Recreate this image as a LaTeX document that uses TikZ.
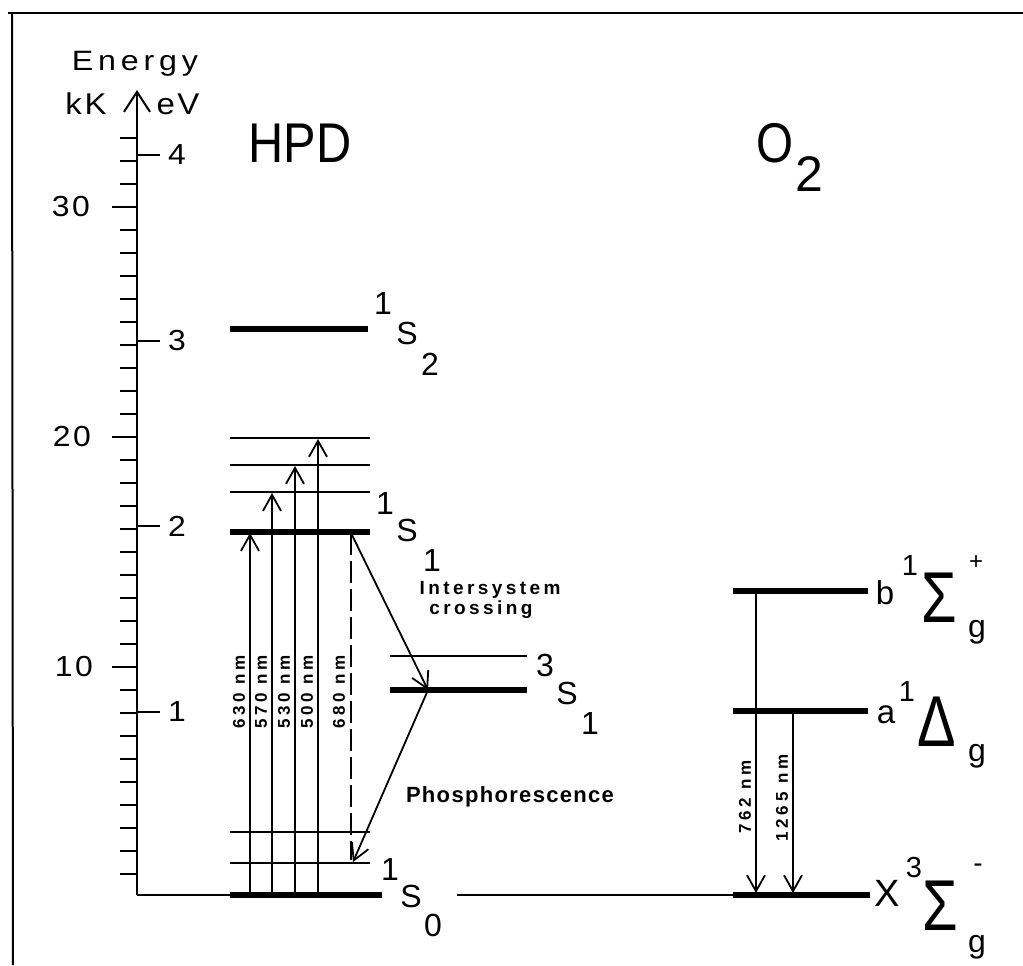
\documentclass[tikz,border=0pt]{standalone}
\usepackage{fontspec}
\setmainfont{Liberation Sans}
\usetikzlibrary{arrows.meta}
\newcommand{\fsz}[1]{\fontsize{#1}{#1}\selectfont}
\begin{document}
\begin{tikzpicture}[x=0.5pt,y=-0.5pt,
  frame/.style={line width=1pt},
  axisl/.style={line width=1pt},
  lvl/.style={line width=2.8pt},
  vib/.style={line width=1.1pt},
  tr/.style={line width=0.9pt,-{Straight Barb[length=8pt,width=9pt]}},
  t/.style={inner sep=0pt,outer sep=0pt,anchor=center},
  tb/.style={inner sep=0pt,outer sep=0pt,anchor=base},
  wl/.style={t,rotate=90,font=\fsz{8.5}\bfseries\addfontfeatures{LetterSpace=22}},
  st/.style={t,font=\fsz{16}},
  big/.style={t,font=\fsz{36}},
  num/.style={t,font=\fsz{14.5}\addfontfeatures{LetterSpace=8}}
]
\useasboundingbox (0,0) rectangle (1023,965);
% frame
\draw[frame] (8,13) -- (1023,13);
\draw[frame] (12,13) -- (13,965);
% axis
\coordinate (ax0) at (137,895);
\coordinate (axtop) at (137,90);
\draw[axisl,-{Straight Barb[length=10pt,width=13pt]}] (ax0) -- (axtop);
\foreach \k in {1,...,33} {\draw[axisl] (120,{897-23*\k}) -- (137,{897-23*\k});}
\foreach \k in {10,20,30} {\draw[axisl] (112,{897-23*\k}) -- (137,{897-23*\k});}
\foreach \n in {1,...,4} {\draw[axisl] (137,{897-185.5*\n}) -- (160,{897-185.5*\n});
  \node[t,font=\fsz{14.5}] (ev\n) at (177,{897-185.5*\n}) {\scalebox{1.1}[1]{\n}};}
\node[num] (k30) at (71,207) {\scalebox{1.1}[1]{30}};
\node[num] (k20) at (72,437) {\scalebox{1.1}[1]{20}};
\node[num] (k10) at (74,667) {\scalebox{1.1}[1]{10}};
\node[tb,font=\fsz{14}\addfontfeatures{LetterSpace=15}] (energy) at (135,70) {\scalebox{1.15}[1]{Energy}};
\node[tb,font=\fsz{15}\addfontfeatures{LetterSpace=8}] (kk) at (86,114) {\scalebox{1.1}[1]{kK}};
\node[tb,font=\fsz{15}\addfontfeatures{LetterSpace=8}] (ev) at (178,114) {\scalebox{1.1}[1]{eV}};
% titles
\node[t,font=\fsz{28}] (hpd) at (300,143) {\scalebox{0.87}[1]{HPD}};
\node[t,font=\fsz{28}] (oxy) at (775,143) {\scalebox{0.85}[1]{O}};
\node[t,font=\fsz{25}] (oxy2) at (809,174) {2};
% HPD levels
\draw[lvl] (230,329) -- (368,329);
\draw[vib] (230,438) -- (370,438);
\draw[vib] (230,465) -- (370,465);
\draw[vib] (230,492) -- (370,492);
\draw[lvl] (230,532) -- (370,532);
\draw[vib] (390,656) -- (527,656);
\draw[lvl] (390,690) -- (527,690);
\draw[vib] (230,832) -- (370,832);
\draw[vib] (230,863) -- (370,863);
% baseline
\draw[axisl] (ax0) -- (230,895);
\draw[lvl] (230,895) -- (382,895);
\draw[axisl] (457,895) -- (733,895);
\draw[lvl] (733,895) -- (870,895);
% O2 levels
\draw[lvl] (733,591) -- (868,591);
\draw[lvl] (733,711) -- (868,711);
% arrow endpoints
\coordinate (a1b) at (250,895); \coordinate (a1t) at (250,533);
\coordinate (a2b) at (272,895); \coordinate (a2t) at (272,493);
\coordinate (a3b) at (295,895); \coordinate (a3t) at (295,466);
\coordinate (a4b) at (318,895); \coordinate (a4t) at (318,439);
\coordinate (fl1) at (351,533); \coordinate (fl2) at (351,860);
\coordinate (isc) at (428,690); \coordinate (ph) at (353,862);
\coordinate (bt) at (756,591); \coordinate (bb) at (756,893);
\coordinate (at) at (793,711); \coordinate (ab) at (793,893);
\draw[tr] (a1b) -- (a1t);
\draw[tr] (a2b) -- (a2t);
\draw[tr] (a3b) -- (a3t);
\draw[tr] (a4b) -- (a4t);
\draw[line width=0.9pt,dash pattern=on 11pt off 3pt] (fl1) -- (fl2);
\draw[tr] (fl1) -- (isc);
\draw[tr] (isc) -- (ph);
\draw[tr] (bt) -- (bb);
\draw[tr] (at) -- (ab);
% wavelength labels
\node[wl] (w630) at (239,692) {630 nm};
\node[wl] (w570) at (261,692) {570 nm};
\node[wl] (w530) at (284,692) {530 nm};
\node[wl] (w500) at (307,692) {500 nm};
\node[wl] (w680) at (339,692) {680 nm};
\node[wl] (w762) at (745,797) {762 nm};
\node[wl] (w1265) at (782,798) {1265 nm};
% process labels
\node[t,font=\fsz{9.5}\bfseries\addfontfeatures{LetterSpace=18}] (isc1) at (490,590) {Intersystem};
\node[t,font=\fsz{9.5}\bfseries\addfontfeatures{LetterSpace=18}] (isc2) at (481,610) {crossing};
\node[t,font=\fsz{11}\bfseries\addfontfeatures{LetterSpace=6}] (phos) at (510,797) {Phosphorescence};
% HPD state labels
\node[st] (s2a) at (383,303) {1}; \node[st] (s2b) at (407,333) {S}; \node[st] (s2c) at (430,364) {2};
\node[st] (s1a) at (385,503) {1}; \node[st] (s1b) at (407,530) {S}; \node[st] (s1c) at (432,560) {1};
\node[st] (t1a) at (545,665) {3}; \node[st] (t1b) at (567,693) {S}; \node[st] (t1c) at (590,723) {1};
\node[st] (s0a) at (390,869) {1}; \node[st] (s0b) at (411,896) {S}; \node[st] (s0c) at (433,925) {0};
% O2 state labels
\node[t,font=\fsz{16.5}] (bb1) at (885,593) {b}; \node[t,font=\fsz{14.5}] (bb2) at (910,566) {1};
\node[big] (bb3) at (939,598) {\scalebox{0.8}[1]{Σ}}; \node[t,font=\fsz{12}] (bb4) at (976,563) {+};
\node[st] (bb5) at (977,632) {g};
\node[t,font=\fsz{16.5}] (aa1) at (886,715) {a}; \node[t,font=\fsz{14.5}] (aa2) at (907,692) {1};
\node[big] (aa3) at (937,722) {\scalebox{0.8}[1]{Δ}};
\node[st] (aa5) at (977,756) {g};
\node[t,font=\fsz{19}] (xx1) at (887,893) {X}; \node[t,font=\fsz{14.5}] (xx2) at (914,868) {3};
\node[big] (xx3) at (940,906) {\scalebox{0.8}[1]{Σ}}; \node[t,font=\fsz{14}] (xx4) at (978,868) {-};
\node[st] (xx5) at (977,947) {g};
\end{tikzpicture}
\end{document}
